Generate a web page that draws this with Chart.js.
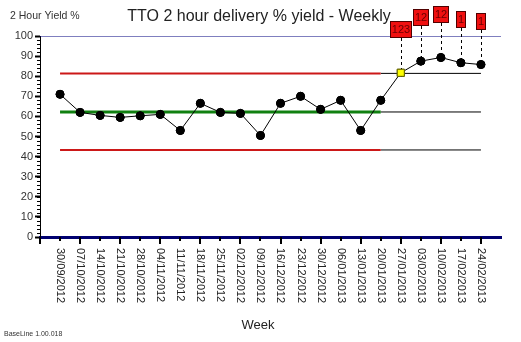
<!DOCTYPE html>
<html>
<head>
<meta charset="utf-8">
<script src="https://cdn.jsdelivr.net/npm/chart.js@4/dist/chart.umd.min.js"></script>
<style>
    body { margin: 0; background: #fff; }
</style>
</head>
<body>
<canvas id="ctx" width="521" height="342"></canvas>
<script>
const weeks = ['30/09/2012', '07/10/2012', '14/10/2012', '21/10/2012', '28/10/2012', '04/11/2012',
    '11/11/2012', '18/11/2012', '25/11/2012', '02/12/2012', '09/12/2012', '16/12/2012', '23/12/2012',
    '30/12/2012', '06/01/2013', '13/01/2013', '20/01/2013', '27/01/2013', '03/02/2013', '10/02/2013',
    '17/02/2013', '24/02/2013'];
const yields = [71, 62, 60.5, 59.5, 60.3, 61, 53, 66.5, 62, 61.5, 50.5, 66.5, 70, 63.5, 68, 53, 68,
    81.7, 87.5, 89.3, 86.7, 85.8];
const ucl = 81.4;
const centre = 62.2;
const lcl = 43.3;
const baselineEnd = 16;
const target = 100;
const flagIndex = [17, 18, 19, 20, 21];
const flagText = ['123', '12', '12', '1', '1'];
const yTicks = [0, 10, 20, 30, 40, 50, 60, 70, 80, 90, 100];

const FONT = "'Liberation Sans', Arial, sans-serif";
const last = weeks.length - 1;

function limitLine(value, from, to, color, width) {
    return {
        data: [{x: from, y: value}, {x: to, y: value}],
        borderColor: color,
        borderWidth: width,
        pointRadius: 0,
        order: 2
    };
}

const extras = {
    id: 'extras',
    afterDatasetsDraw(chart) {
        const c = chart.ctx, xs = chart.scales.x, ys = chart.scales.y, area = chart.chartArea;
        c.save();
        // flag boxes with dashed leaders
        flagIndex.forEach((idx, i) => {
            const px = Math.round(xs.getPixelForValue(idx)), py = ys.getPixelForValue(yields[idx]);
            const bottom = Math.round(py - 35);
            c.setLineDash([3, 3]);
            c.strokeStyle = '#000';
            c.lineWidth = 1;
            c.beginPath();
            c.moveTo(px + 0.5, bottom);
            c.lineTo(px + 0.5, py + 4);
            c.stroke();
            c.setLineDash([]);
            c.font = '11px ' + FONT;
            const w = Math.round(c.measureText(flagText[i]).width) + 4;
            const left = Math.round(px - w / 2);
            c.fillStyle = '#f01010';
            c.fillRect(left, bottom - 17, w, 17);
            c.strokeStyle = '#500000';
            c.strokeRect(left + 0.5, bottom - 16.5, w - 1, 16);
            c.fillStyle = '#6a0000';
            c.textAlign = 'center';
            c.textBaseline = 'middle';
            c.fillText(flagText[i], left + w / 2, bottom - 8);
        });
        // redraw points over dashed lines
        chart.getDatasetMeta(0).data.forEach(p => p.draw(c));
        // x ticks, alternating length
        c.strokeStyle = '#000';
        c.lineWidth = 2;
        for (let i = -1; i <= last; i++) {
            const px = Math.round(xs.getPixelForValue(i));
            c.beginPath();
            c.moveTo(px, area.bottom);
            c.lineTo(px, area.bottom + (i % 2 === 0 ? 4 : 7));
            c.stroke();
        }
        // y minor ticks
        c.lineWidth = 1;
        for (let v = 0; v <= 100; v += 2) {
            const py = Math.round(ys.getPixelForValue(v)) + 0.5;
            c.beginPath();
            c.moveTo(area.left - 3, py);
            c.lineTo(area.left, py);
            c.stroke();
        }
        // rotated week labels
        c.fillStyle = '#222';
        c.font = '11px ' + FONT;
        c.textAlign = 'left';
        c.textBaseline = 'middle';
        weeks.forEach((w, i) => {
            c.save();
            c.translate(xs.getPixelForValue(i), area.bottom + 11);
            c.rotate(Math.PI / 2);
            c.fillText(w, 0, 0);
            c.restore();
        });
        // texts
        c.fillStyle = '#222';
        c.textAlign = 'center';
        c.font = '16px ' + FONT;
        c.fillText('TTO 2 hour delivery % yield - Weekly', 259, 17);
        c.font = '13px ' + FONT;
        c.fillText('Week', 258, 325);
        c.textAlign = 'left';
        c.fillStyle = '#333';
        c.font = '10.5px ' + FONT;
        c.fillText('2 Hour Yield %', 10, 16);
        c.font = '7px ' + FONT;
        c.fillText('BaseLine 1.00.018', 4, 334);
        c.restore();
    }
};

new Chart(document.getElementById('ctx'), {
    type: 'line',
    data: {
        datasets: [
            {
                data: yields.map((v, i) => ({x: i, y: v})),
                borderColor: '#000',
                borderWidth: 1,
                pointStyle: yields.map((v, i) => i === flagIndex[0] ? 'rect' : 'circle'),
                pointRadius: yields.map((v, i) => i === flagIndex[0] ? 5 : 4),
                pointBackgroundColor: yields.map((v, i) => i === flagIndex[0] ? '#ffff00' : '#000'),
                pointBorderColor: yields.map((v, i) => i === flagIndex[0] ? '#606000' : '#000'),
                pointBorderWidth: 1,
                order: 0
            },
            limitLine(ucl, 0, baselineEnd, '#cc1818', 2),
            limitLine(centre, 0, baselineEnd, '#108010', 3),
            limitLine(lcl, 0, baselineEnd, '#cc1818', 2),
            limitLine(ucl, baselineEnd, last, '#000', 1),
            limitLine(centre, baselineEnd, last, '#000', 1),
            limitLine(lcl, baselineEnd, last, '#000', 1),
            limitLine(target, -1, last + 1, '#000080', 1)
        ]
    },
    options: {
        responsive: false,
        animation: false,
        layout: {padding: {left: 0, right: 20, top: 36, bottom: 0}},
        plugins: {legend: {display: false}, tooltip: {enabled: false}},
        scales: {
            x: {
                type: 'linear',
                min: -1,
                max: last + 1,
                grid: {display: false},
                ticks: {display: false},
                border: {display: true, color: '#000070', width: 3},
                afterFit: s => { s.height = 105; }
            },
            y: {
                min: 0,
                max: 100,
                afterBuildTicks: s => { s.ticks = yTicks.map(v => ({value: v})); },
                grid: {drawOnChartArea: false, tickLength: 5, tickWidth: 2, tickColor: '#000'},
                border: {display: true, color: '#000', width: 1},
                ticks: {color: '#333', font: {size: 11, family: FONT}, padding: 2},
                afterFit: s => { s.width = 40; }
            }
        }
    },
    plugins: [extras]
});
</script>
</body>
</html>
